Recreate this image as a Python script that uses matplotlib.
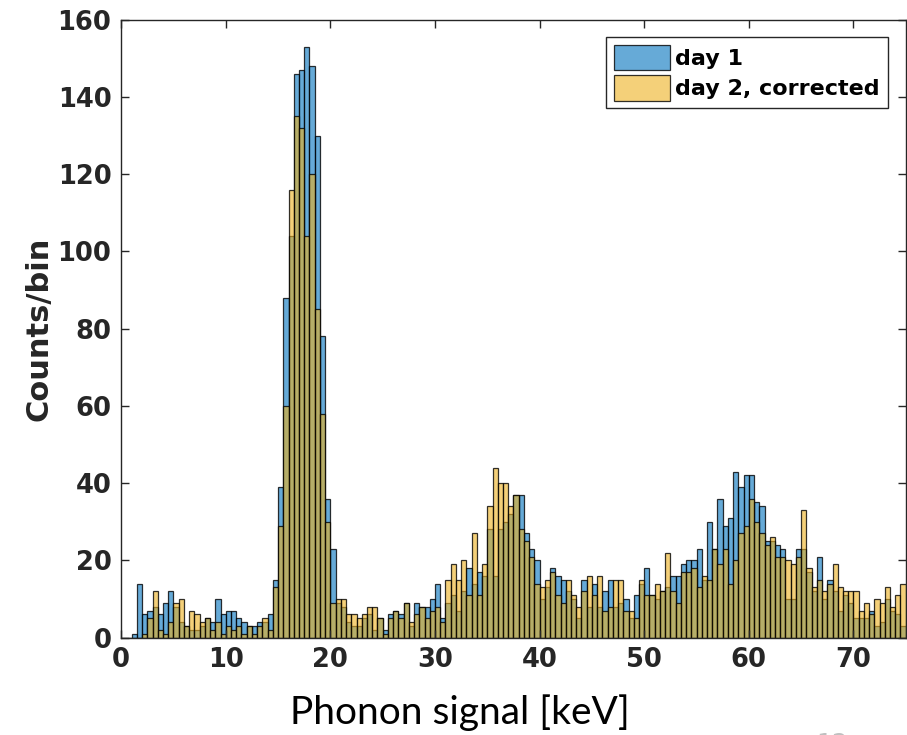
import numpy as np
import matplotlib
matplotlib.use("Agg")
import matplotlib.pyplot as plt

# histogram: 0.5 keV bins from 0 to 75 keV
bin_width = 0.5
bin_edges = np.arange(0, 75 + bin_width, bin_width)

day1_counts = [
    0, 0, 1, 14, 6, 7, 8, 6, 9, 12,
    8, 4, 3, 2, 2, 3, 5, 4, 10, 6,
    7, 7, 5, 4, 3, 3, 4, 4, 6, 15,
    39, 88, 104, 146, 147, 153, 148, 130, 78, 36,
    23, 9, 8, 4, 3, 3, 5, 6, 2, 5,
    2, 6, 7, 6, 9, 3, 9, 8, 8, 10,
    14, 5, 9, 11, 7, 12, 18, 14, 17, 16,
    28, 16, 28, 30, 32, 37, 37, 27, 23, 20,
    10, 13, 18, 16, 15, 12, 10, 5, 15, 8,
    14, 8, 12, 15, 8, 9, 10, 5, 11, 14,
    18, 11, 10, 12, 13, 16, 16, 19, 20, 20,
    23, 15, 30, 23, 36, 29, 31, 43, 39, 42,
    42, 35, 34, 25, 25, 24, 23, 10, 10, 23,
    23, 17, 12, 21, 10, 15, 12, 7, 11, 9,
    5, 5, 5, 7, 3, 4, 10, 7, 6, 3,
]

day2_counts = [
    0, 0, 0, 0, 1, 5, 12, 2, 1, 4,
    9, 10, 3, 7, 6, 4, 5, 2, 4, 1,
    3, 2, 3, 1, 3, 1, 3, 5, 2, 13,
    29, 60, 116, 135, 132, 104, 120, 85, 58, 30,
    9, 10, 10, 6, 6, 5, 6, 8, 8, 5,
    1, 5, 7, 5, 9, 4, 6, 8, 5, 7,
    8, 4, 15, 19, 15, 20, 11, 27, 11, 19,
    34, 44, 40, 40, 34, 37, 28, 25, 21, 14,
    13, 15, 17, 11, 9, 15, 11, 8, 12, 16,
    11, 16, 7, 8, 15, 15, 7, 7, 5, 15,
    11, 11, 14, 12, 22, 12, 9, 17, 17, 18,
    13, 16, 15, 23, 19, 23, 14, 20, 27, 29,
    36, 30, 27, 24, 26, 21, 21, 20, 19, 21,
    33, 18, 13, 15, 12, 14, 19, 13, 12, 12,
    12, 7, 9, 6, 10, 9, 13, 8, 11, 14,
]

labels = ["day 1", "day 2, corrected"]

blue = (0.0, 0.447, 0.741, 0.6)
yellow = (0.929, 0.694, 0.125, 0.6)
axis_col = (0.15, 0.15, 0.15)

plt.rcParams['font.family'] = ['DejaVu Sans']

fig = plt.figure(figsize=(9.07, 7.35), dpi=100)
ax = fig.add_axes([0.1336, 0.1325, 0.8650, 0.8407])

ax.bar(bin_edges[:-1], day1_counts, width=bin_width, align='edge',
       facecolor=blue, edgecolor=(0, 0, 0, 0.8), linewidth=0.9, label=labels[0])
ax.bar(bin_edges[:-1], day2_counts, width=bin_width, align='edge',
       facecolor=yellow, edgecolor=(0, 0, 0, 0.8), linewidth=0.9, label=labels[1])

ax.set_xlim(0, 75)
ax.set_ylim(0, 160)
ax.set_xticks(np.arange(0, 71, 10))
ax.set_yticks(np.arange(0, 161, 20))

ax.tick_params(direction='in', top=True, right=True, length=6, width=1,
               colors=axis_col, labelsize=18.5, pad=7)
for lab in ax.get_xticklabels() + ax.get_yticklabels():
    lab.set_fontweight('bold')
for sp in ax.spines.values():
    sp.set_color(axis_col)
    sp.set_linewidth(1)

ax.set_ylabel("Counts/bin", fontsize=22, fontweight='bold', color=axis_col, labelpad=3)

fig.text(0.507, 0.031, "Phonon signal [keV]", family=['Lato', 'DejaVu Sans'],
         fontsize=28, ha='center', va='center', color='black')
# slide page number, clipped by the bottom edge as in the source
fig.text(0.900, -0.012, "12", fontsize=18, color='#c0c0c0', ha='left', va='center')

leg = ax.legend(loc='upper right', bbox_to_anchor=(0.977, 0.972), borderaxespad=0,
                prop={'weight': 'bold', 'size': 16}, fancybox=False, framealpha=1,
                edgecolor=axis_col, handlelength=2.5, handleheight=1.4,
                handletextpad=0.25, labelspacing=0.2, borderpad=0.35)
leg.get_frame().set_linewidth(1)

fig.savefig("out.png", dpi=100)
